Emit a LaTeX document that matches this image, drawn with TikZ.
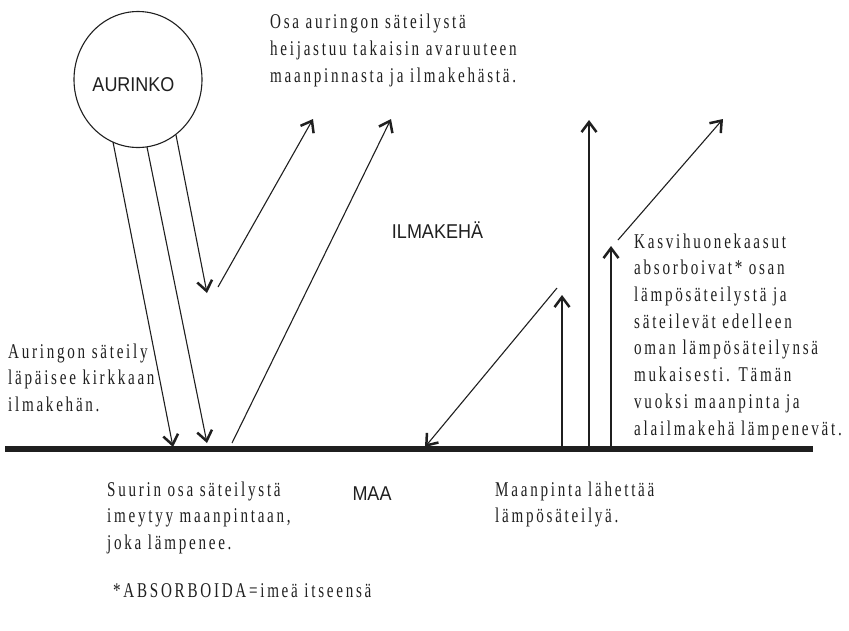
\documentclass[tikz,border=0pt]{standalone}
\usepackage{fontspec}
\usetikzlibrary{arrows.meta,shapes.geometric}
\newfontfamily\notefont[FakeStretch=0.72,LetterSpace=13]{Liberation Serif}
\newfontfamily\tagfont[FakeStretch=0.9]{Liberation Sans}
\definecolor{ink}{gray}{0.12}
\begin{document}
\begin{tikzpicture}[x=1pt,y=-1pt,
  ray/.style={line width=1.1pt,draw=ink,-{Straight Barb[length=10pt,width=15pt,line width=2.5pt]}},
  note/.style={font=\notefont\fontsize{21}{26.7}\selectfont,text=ink,align=left,anchor=north west,inner sep=0pt},
  tag/.style={font=\tagfont\fontsize{20}{24}\selectfont,text=ink,inner sep=0pt},
  ground/.style={line width=5.5pt,draw=ink},
  sunshape/.style={draw=ink,ellipse,line width=1.1pt,minimum width=128pt,minimum height=136pt,inner sep=0pt}]
\useasboundingbox (0,0) rectangle (849,630);

% the sun
\node[sunshape] (sun) at (138,79.5) {};
\node[tag] (aurinko) at (133.5,85) {AURINKO};

% ground line
\coordinate (g1) at (5,449);
\coordinate (g2) at (813,449);
\draw[ground] (g1) -- (g2);

% incoming solar rays
\coordinate (s1) at (113,142);  \coordinate (s1e) at (173,447);
\coordinate (s2) at (147,147);  \coordinate (s2e) at (207,443);
\coordinate (s3) at (176,135);  \coordinate (s3e) at (207,293);
\draw[ray] (s1) -- (s1e);
\draw[ray] (s2) -- (s2e);
\draw[ray] (s3) -- (s3e);

% reflected rays
\coordinate (r1) at (218,287);  \coordinate (r1e) at (313,119);
\coordinate (r2) at (232,443);  \coordinate (r2e) at (391,119);
\draw[ray] (r1) -- (r1e);
\draw[ray] (r2) -- (r2e);

% heat radiation
\coordinate (b1) at (557,288);  \coordinate (b1e) at (425,447);
\coordinate (h1) at (562,449);  \coordinate (h1e) at (562,295);
\coordinate (h2) at (589,449);  \coordinate (h2e) at (589,120);
\coordinate (h3) at (611,449);  \coordinate (h3e) at (611,246);
\coordinate (u1) at (618,240);  \coordinate (u1e) at (723,119);
\draw[ray] (b1) -- (b1e);
\draw[ray] (h1) -- (h1e);
\draw[ray] (h2) -- (h2e);
\draw[ray] (h3) -- (h3e);
\draw[ray] (u1) -- (u1e);

% labels
\node[tag] (ilmakeha) at (437.5,230) {ILMAKEHÄ};
\node[tag] (maa) at (372,494) {MAA};

\node[note] (heijastus) at (270,9.8) {\strut Osa auringon säteilystä\\heijastuu takaisin avaruuteen\\maanpinnasta ja ilmakehästä.};
\node[note] (lapaisy) at (8,339.3) {\strut Auringon säteily\\läpäisee kirkkaan\\ilmakehän.};
\node[note] (imeytyy) at (107,477.3) {\strut Suurin osa säteilystä\\imeytyy maanpintaan,\\joka lämpenee.};
\node[note] (lahettaa) at (495,477.3) {\strut Maanpinta lähettää\\lämpösäteilyä.};
\node[note] (kaasut) at (634,229.3) {\strut Kasvihuonekaasut\\absorboivat* osan\\lämpösäteilystä ja\\säteilevät edelleen\\oman lämpösäteilynsä\\mukaisesti. Tämän\\vuoksi maanpinta ja\\alailmakehä lämpenevät.};
\node[note] (selitys) at (113,578.3) {\strut *ABSORBOIDA=imeä itseensä};
\end{tikzpicture}
\end{document}
